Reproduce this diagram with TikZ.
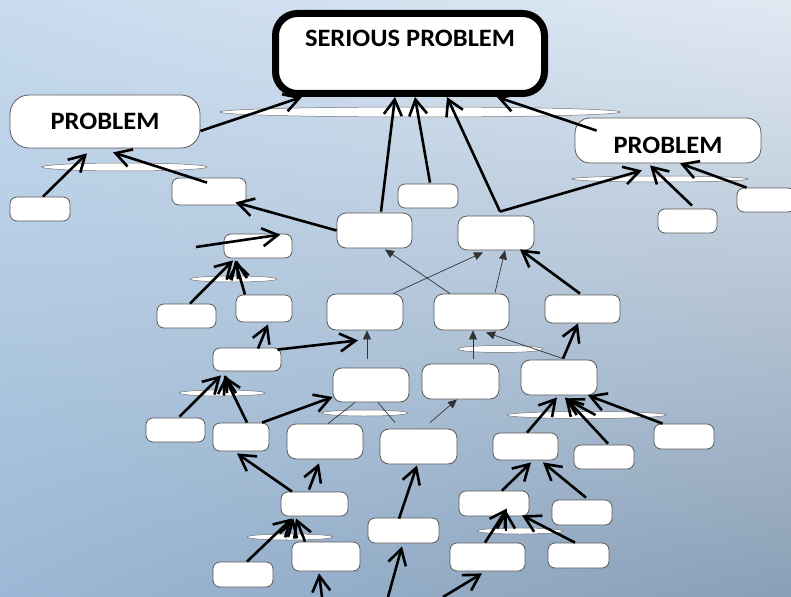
\documentclass[tikz,border=0pt]{standalone}
\usepackage{fontspec}
\setmainfont{Carlito}[FakeStretch=1.06]
\usetikzlibrary{arrows.meta,shapes.geometric,shadings}
\definecolor{bgUL}{RGB}{200,219,238}
\definecolor{bgUR}{RGB}{224,233,242}
\definecolor{bgLL}{RGB}{155,184,214}
\definecolor{bgLR}{RGB}{138,159,182}

\begin{document}
\begin{tikzpicture}[x=1pt,y=-1pt,
  box/.style={draw=black!65,line width=0.8pt,fill=white,rounded corners=7pt,inner sep=0pt},
  bigbox/.style={box,rounded corners=17pt},
  heading/.style={font=\bfseries\fontsize{25}{29}\selectfont},
  junction/.style={ellipse,draw=black!55,line width=0.5pt,fill=white,inner sep=0pt},
  thk/.style={line width=2.6pt,-{Straight Barb[angle=60:18pt]}},
  thn/.style={line width=0.7pt,draw=black!80,-{Triangle[length=9pt,width=8pt]}},
  plainln/.style={line width=0.7pt,draw=black!80},
]
% canvas and backdrop
\useasboundingbox (0,0) rectangle (791,596);
\shade[upper left=bgUL, upper right=bgUR, lower left=bgLL, lower right=bgLR]
  (0,0) rectangle (791,596);

% junction ellipses
\node[junction,minimum width=400pt,minimum height=10pt] (e0) at (420,112) {};
\node[junction,minimum width=165pt,minimum height=8pt] (e1) at (124.5,167) {};
\node[junction,minimum width=176pt,minimum height=6pt] (e2) at (660,179) {};
\node[junction,minimum width=87pt,minimum height=6pt] (e3) at (233.5,279) {};
\node[junction,minimum width=86pt,minimum height=6pt] (e4) at (222,393) {};
\node[junction,minimum width=86pt,minimum height=6pt] (e5) at (365,413) {};
\node[junction,minimum width=85pt,minimum height=7pt] (e6) at (500.5,349) {};
\node[junction,minimum width=159pt,minimum height=7pt] (e7) at (586.5,415) {};
\node[junction,minimum width=86pt,minimum height=6pt] (e8) at (290,537) {};
\node[junction,minimum width=86pt,minimum height=6pt] (e9) at (520,531) {};

% main problem boxes
\node[box,line width=7pt,draw=black,rounded corners=22pt,minimum width=269pt,minimum height=80pt,
      label={[heading,yshift=15.5pt]center:SERIOUS PROBLEM}] (sp) at (410,53.5) {};
\node[bigbox,rounded corners=19pt,minimum width=190pt,minimum height=53pt,heading] (lp) at (105,121.5) {PROBLEM};
\node[bigbox,rounded corners=15pt,minimum width=186pt,minimum height=45pt,
      label={[heading,yshift=-4.5pt]center:PROBLEM}] (rp) at (668,140.5) {};

% empty boxes
\node[box,minimum width=60pt,minimum height=24pt] (b1) at (40,209) {};
\node[box,minimum width=74pt,minimum height=27pt] (b2) at (209,191.5) {};
\node[box,minimum width=60pt,minimum height=24pt] (b3) at (428,196) {};
\node[box,rounded corners=9pt,minimum width=75pt,minimum height=35pt] (b4) at (374.5,230.5) {};
\node[box,rounded corners=9pt,minimum width=76pt,minimum height=34pt] (b5) at (496,233) {};
\node[box,minimum width=59pt,minimum height=24pt] (b6) at (687.5,221) {};
\node[box,minimum width=58pt,minimum height=24pt] (b7) at (766,200) {};
\node[box,minimum width=68pt,minimum height=24pt] (b8) at (258,246) {};
\node[box,minimum width=59pt,minimum height=24pt] (b9) at (186.5,316) {};
\node[box,minimum width=56pt,minimum height=27pt] (b10) at (264,308.5) {};
\node[box,rounded corners=9pt,minimum width=76pt,minimum height=36pt] (b11) at (365,312) {};
\node[box,rounded corners=9pt,minimum width=75pt,minimum height=36pt] (b12) at (471.5,312) {};
\node[box,minimum width=75pt,minimum height=28pt] (b13) at (582.5,309) {};
\node[box,minimum width=68pt,minimum height=23pt] (b14) at (247,359.5) {};
\node[box,rounded corners=9pt,minimum width=76pt,minimum height=34pt] (b15) at (371,385) {};
\node[box,rounded corners=9pt,minimum width=77pt,minimum height=35pt] (b16) at (460.5,381.5) {};
\node[box,rounded corners=9pt,minimum width=76pt,minimum height=35pt] (b17) at (559,377.5) {};
\node[box,minimum width=59pt,minimum height=24pt] (b18) at (175.5,430) {};
\node[box,minimum width=56pt,minimum height=28pt] (b19) at (241,437) {};
\node[box,rounded corners=9pt,minimum width=76pt,minimum height=35pt] (b20) at (325,441.5) {};
\node[box,rounded corners=9pt,minimum width=77pt,minimum height=35pt] (b21) at (418.5,446.5) {};
\node[box,minimum width=65pt,minimum height=27pt] (b22) at (525.5,446.5) {};
\node[box,minimum width=60pt,minimum height=24pt] (b23) at (604,457) {};
\node[box,minimum width=60pt,minimum height=25pt] (b24) at (684,436.5) {};
\node[box,minimum width=67pt,minimum height=24pt] (b25) at (314.5,504) {};
\node[box,minimum width=68pt,minimum height=29pt] (b26) at (326,556.5) {};
\node[box,minimum width=60pt,minimum height=25pt] (b27) at (243,574.5) {};
\node[box,minimum width=71pt,minimum height=25pt] (b28) at (403.5,530.5) {};
\node[box,minimum width=70pt,minimum height=25pt] (b29) at (494,503.5) {};
\node[box,minimum width=60pt,minimum height=25pt] (b30) at (582,512.5) {};
\node[box,minimum width=75pt,minimum height=28pt] (b31) at (487.5,557) {};
\node[box,minimum width=61pt,minimum height=25pt] (b32) at (578.5,555.5) {};

% loose arrow tails
\coordinate (f1) at (196,247);
\coordinate (f2) at (443,597);
\coordinate (f3) at (388,597);
\coordinate (f4) at (322,597);

% thin links
\draw[thn] ([xshift=-4pt,yshift=9pt]b15.north) -- ([xshift=2pt]b11.south);
\draw[plainln] ([xshift=3pt]b20.north) -- ([xshift=-16pt]b15.south);
\draw[plainln] ([xshift=-23.5pt,yshift=6pt]b21.north) -- ([xshift=7pt]b15.south);
\draw[thn] ([xshift=11.5pt,yshift=6pt]b21.north) -- ([xshift=-3.5pt]b16.south);
\draw[thn] ([xshift=12.5pt,yshift=5pt]b16.north) -- ([xshift=1.5pt]b12.south);
\draw[thn] ([xshift=4pt,yshift=1pt]b17.north) -- ([xshift=14.5pt,yshift=-2pt]b12.south);
\draw[thn] ([xshift=28pt]b11.north) -- ([xshift=-13pt,yshift=-2pt]b5.south);
\draw[thn] ([xshift=-21.5pt]b12.north) -- ([xshift=10.5pt,yshift=-1pt]b4.south);
\draw[thn] ([xshift=23.5pt,yshift=1pt]b12.north) -- ([xshift=9pt]b5.south);

% heavy links
\draw[thk] ([yshift=-9.5pt]lp.east) -- ([xshift=-108pt]sp.south);
\draw[thk] ([xshift=6.5pt,yshift=1pt]b4.north) -- ([xshift=-15pt]sp.south);
\draw[thk] ([xshift=2pt,yshift=1pt]b3.north) -- ([xshift=5pt]sp.south);
\draw[thk] ([xshift=4pt,yshift=4pt]b5.north) -- ([xshift=37pt]sp.south);
\draw[thk] ([xshift=4pt,yshift=4pt]b5.north) -- ([xshift=-26pt,yshift=-7pt]rp.south);
\draw[thk] ([xshift=22pt,yshift=-13pt]rp.north west) -- ([xshift=87pt]sp.south);
\draw[thk] ([xshift=3pt]b1.north) -- ([xshift=-18pt,yshift=-5pt]lp.south);
\draw[thk] ([xshift=-2pt,yshift=-5pt]b2.north) -- ([xshift=8pt,yshift=-4pt]lp.south);
\draw[thk] (b4.west) -- ([xshift=-11pt,yshift=3pt]b2.south east);
\draw[thk] ([xshift=4.5pt,yshift=3pt]b6.north) -- ([xshift=-18pt,yshift=-2pt]rp.south);
\draw[thk] ([xshift=10pt]b7.north west) -- ([xshift=12pt]rp.south);
\draw[thk] (f1) -- ([xshift=-12pt,yshift=-1pt]b8.north east);
\draw[thk] ([xshift=3.5pt]b9.north) -- ([xshift=-25pt,yshift=-2pt]b8.south);
\draw[thk] ([xshift=-19pt]b10.north) -- ([xshift=-23pt,yshift=-2pt]b8.south);
\draw[thk] ([xshift=4.5pt]e3.center) -- ([xshift=-21pt,yshift=-2pt]b8.south);
\draw[thk] ([xshift=11pt,yshift=-1pt]b14.north) -- ([xshift=4pt,yshift=-2pt]b10.south);
\draw[thk] ([xshift=-4pt,yshift=-2pt]b14.north east) -- ([xshift=-7pt,yshift=-10pt]b11.south);
\draw[thk] ([xshift=4pt,yshift=1pt]b18.north) -- ([xshift=-26pt,yshift=-4pt]b14.south);
\draw[thk] ([xshift=6pt]b19.north) -- ([xshift=-23pt,yshift=-4pt]b14.south);
\draw[thk] ([xshift=5pt]e4.center) -- ([xshift=-21pt,yshift=-4pt]b14.south);
\draw[thk] ([xshift=21pt]b19.north) -- ([yshift=-12pt]b15.west);
\draw[thk] ([xshift=4pt,yshift=1pt]b17.north) -- ([xshift=-4.5pt]b13.south);
\draw[thk] ([xshift=-2.5pt,yshift=1pt]b13.north) -- ([xshift=24pt,yshift=1pt]b5.south);
\draw[thk] ([xshift=1.5pt]b22.north) -- ([xshift=-2pt,yshift=-2pt]b17.south);
\draw[thk] ([xshift=4pt,yshift=1pt]b23.north) -- ([xshift=6pt,yshift=-2pt]b17.south);
\draw[thk] ([xshift=9pt]b24.north west) -- ([xshift=29pt]b17.south);
\draw[thk] ([xshift=9pt]e7.center) -- ([xshift=6pt,yshift=-3pt]b17.south);
\draw[thk] ([xshift=8pt]b29.north) -- ([xshift=5.5pt,yshift=-2pt]b22.south);
\draw[thk] ([xshift=4pt,yshift=2pt]b30.north) -- ([xshift=17.5pt,yshift=-2pt]b22.south);
\draw[thk] ([xshift=-2.5pt]b31.north) -- ([xshift=13pt,yshift=8pt]b29.south);
\draw[thk] ([xshift=-14pt]e9.center) -- ([xshift=12pt,yshift=6pt]b29.south);
\draw[thk] ([xshift=-3.5pt]b32.north) -- ([xshift=28pt,yshift=1pt]b29.south);
\draw[thk] (f2) -- ([xshift=-5.5pt,yshift=-2pt]b31.south);
\draw[thk] ([xshift=-4.5pt,yshift=-1pt]b28.north) -- ([xshift=-1.5pt,yshift=-1pt]b21.south);
\draw[thk] (f3) -- ([xshift=-1.5pt,yshift=-3pt]b28.south);
\draw[thk] ([xshift=-5.5pt,yshift=2pt]b25.north) -- ([xshift=-6pt,yshift=-4pt]b20.south);
\draw[thk] ([xshift=-22.5pt]b25.north) -- ([xshift=-4pt,yshift=-2pt]b19.south);
\draw[thk] ([xshift=4pt]b27.north) -- ([xshift=-22.5pt,yshift=-2pt]b25.south);
\draw[thk] ([xshift=-21pt]b26.north) -- ([xshift=-18.5pt,yshift=-2pt]b25.south);
\draw[thk] ([xshift=-2pt]e8.center) -- ([xshift=-21pt,yshift=-2pt]b25.south);
\draw[thk] (f4) -- ([xshift=-7pt,yshift=-2pt]b26.south);
\end{tikzpicture}
\end{document}
